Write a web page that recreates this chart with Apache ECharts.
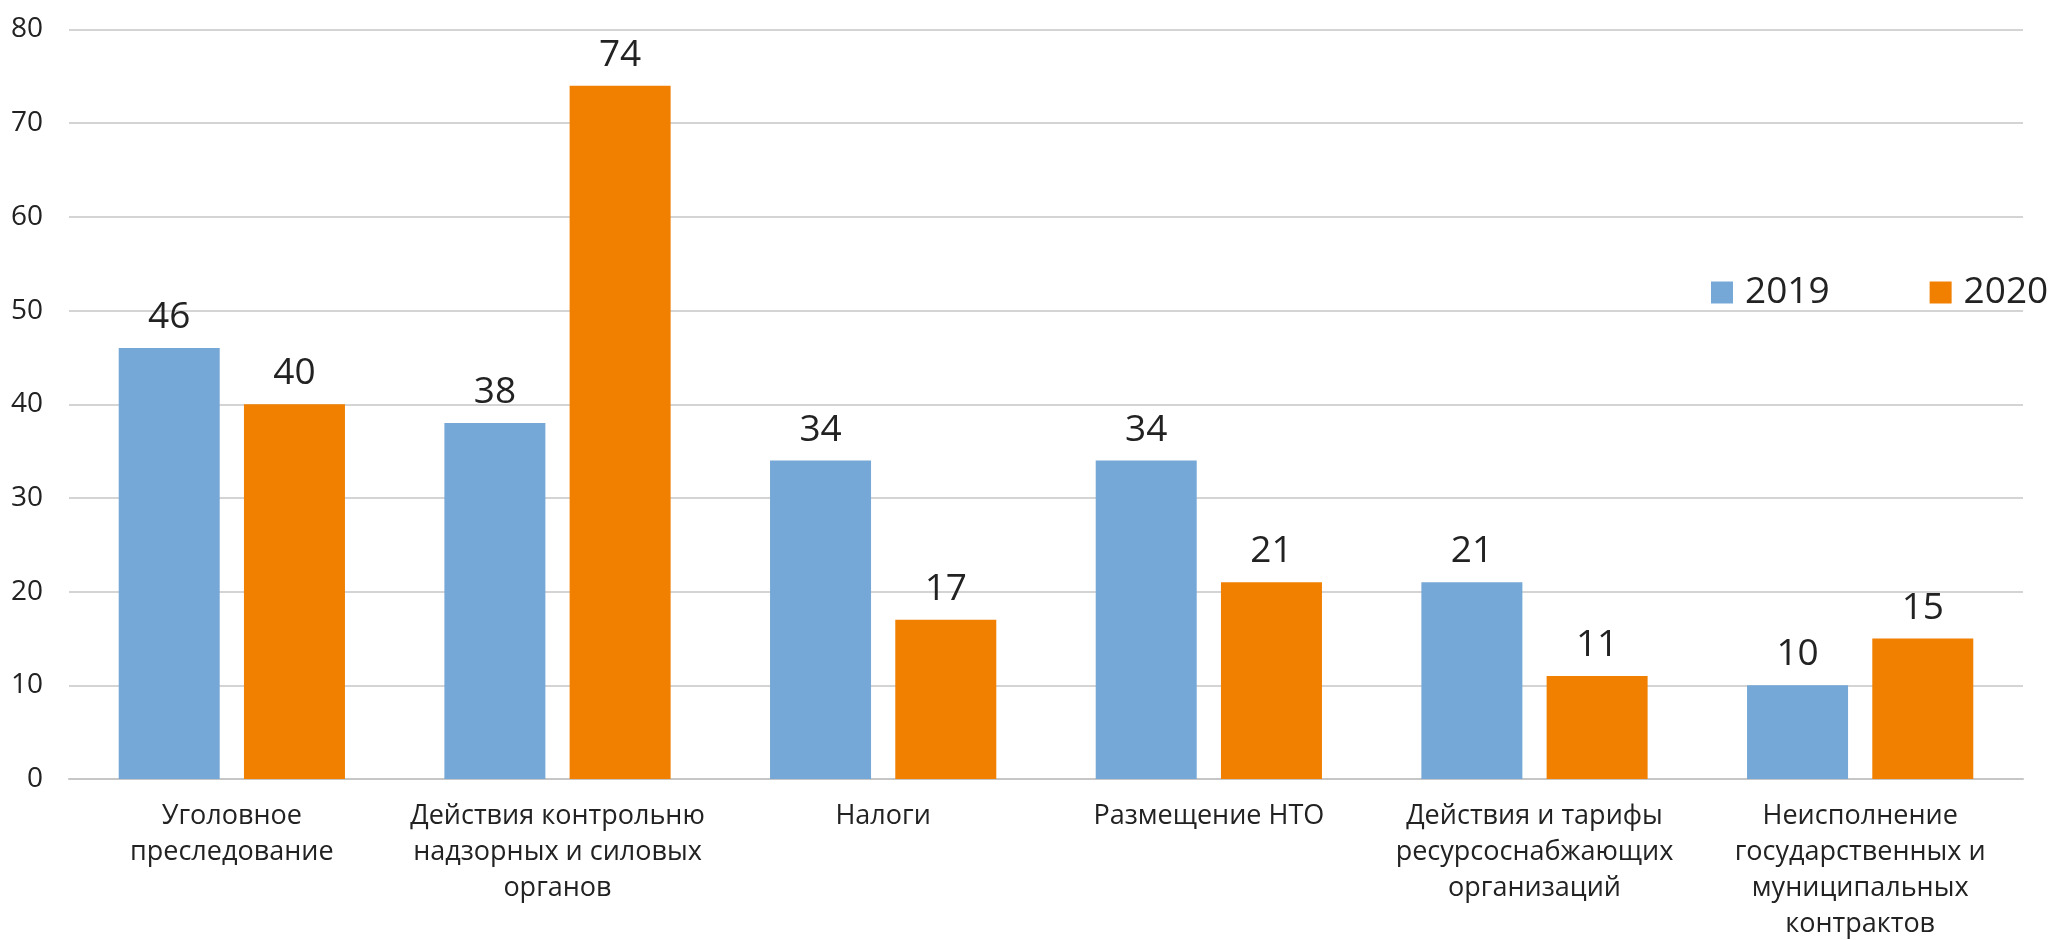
<!DOCTYPE html>
<html>
<head>
<meta charset="utf-8">
<script src="https://cdn.jsdelivr.net/npm/echarts@6/dist/echarts.min.js"></script>
<style>
html,body{margin:0;padding:0;background:#fff;}
#chart{width:2052px;height:940px;}
</style>
</head>
<body>
<div id="chart"></div>
<script>
const categories = [
  "Уголовное\nпреследование",
  "Действия контрольню\nнадзорных и силовых\nорганов",
  "Налоги",
  "Размещение НТО",
  "Действия и тарифы\nресурсоснабжающих\nорганизаций",
  "Неисполнение\nгосударственных и\nмуниципальных\nконтрактов"
];
const seriesNames = ["2019", "2020"];
const values2019 = [46, 38, 34, 34, 21, 10];
const values2020 = [40, 74, 17, 21, 11, 15];
const yTicks = { min: 0, max: 80, interval: 10 };

const FONT = "Open Sans";
const TXT = "#222222";
const chart = echarts.init(document.getElementById('chart'));
const labelCfg = {
  show: true, position: 'top', distance: 12,
  color: TXT, fontFamily: FONT, fontSize: 37
};
chart.setOption({
  animation: false,
  grid: { left: 69, right: 29, top: 29.5, bottom: 161, containLabel: false, outerBoundsMode: 'none' },
  legend: {
    data: seriesNames,
    orient: 'horizontal',
    left: 1711, top: 274, width: 400, padding: 0,
    itemWidth: 22, itemHeight: 22, itemGap: 100,
    icon: 'rect',
    textStyle: { color: TXT, fontFamily: FONT, fontSize: 37, lineHeight: 22, padding: [0,0,0,7] }
  },
  xAxis: {
    type: 'category',
    data: categories,
    axisLine: { show: true, lineStyle: { color: '#c6c6c6', width: 2 } },
    axisTick: { show: false },
    axisLabel: {
      interval: 0, margin: 19, color: TXT, fontFamily: FONT, fontSize: 27, lineHeight: 36
    }
  },
  yAxis: {
    type: 'value',
    min: yTicks.min, max: yTicks.max, interval: yTicks.interval,
    axisLine: { show: false },
    axisTick: { show: false },
    splitLine: { lineStyle: { color: '#c6c6c6', width: 1.5 } },
    axisLabel: { margin: 26, color: TXT, fontFamily: FONT, fontSize: 28 }
  },
  series: [
    { name: seriesNames[0], type: 'bar', data: values2019, barWidth: 101, barGap: '24%',
      itemStyle: { color: '#75A8D7' }, label: labelCfg },
    { name: seriesNames[1], type: 'bar', data: values2020, barWidth: 101, barGap: '24%',
      itemStyle: { color: '#F17F00' }, label: labelCfg }
  ]
});
</script>
</body>
</html>
